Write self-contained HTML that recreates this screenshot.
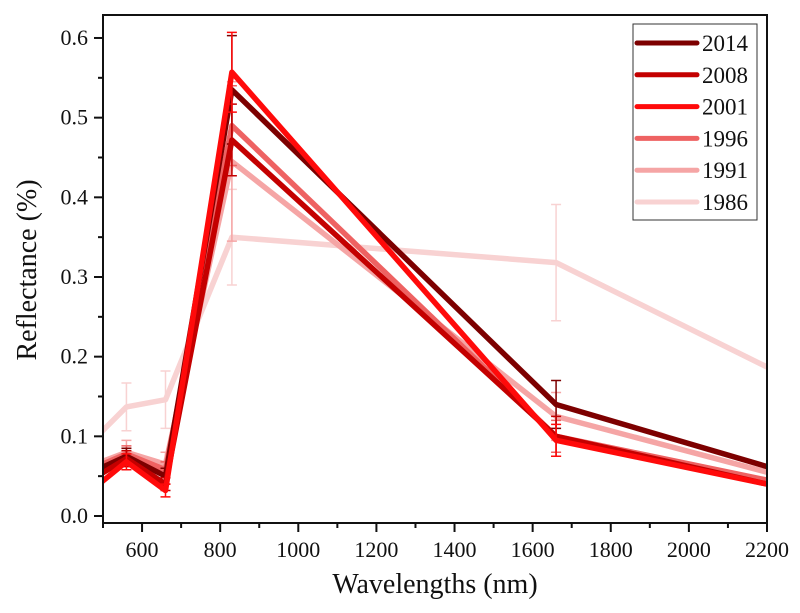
<!DOCTYPE html>
<html><head><meta charset="utf-8"><style>
html,body{margin:0;padding:0;background:#fff;}
svg text{font-family:"Liberation Serif",serif;fill:#111;}
</style></head><body>
<svg id="chart" width="800" height="608" xmlns="http://www.w3.org/2000/svg">
<defs><clipPath id="clip"><rect x="103" y="15" width="664" height="508"/></clipPath></defs>
<g id="plot" clip-path="url(#clip)"></g>
<rect x="103" y="15" width="664" height="508" fill="none" stroke="#111" stroke-width="2"/>
<g id="axes"></g>
<text x="435" y="593" font-size="28" text-anchor="middle">Wavelengths (nm)</text>
<text transform="translate(36,270) rotate(-90)" font-size="28" text-anchor="middle">Reflectance (%)</text>
<rect x="633" y="24" width="124" height="196" fill="#fff" stroke="#333" stroke-width="1"/>
<g id="legend"></g>
</svg>
<script>
const wavelengths=[485,560,660,830,1660,2200];
const years=["2014","2008","2001","1996","1991","1986"];
const colors=["#7d0000","#c40000","#ff0a0a","#ee6262","#f5a5a5","#f8d2d2"];
const v2014=[0.058,0.075,0.05,0.535,0.14,0.062];
const v2008=[0.05,0.072,0.04,0.472,0.10,0.04];
const v2001=[0.038,0.068,0.032,0.557,0.095,0.04];
const v1996=[0.062,0.078,0.058,0.49,0.10,0.045];
const v1991=[0.066,0.08,0.065,0.445,0.125,0.055];
const v1986=[0.10,0.137,0.146,0.35,0.318,0.187];
const e2014=[0,0.01,0.01,0.068,0.03,0];
const e2008=[0,0.01,0.008,0.045,0.025,0];
const e2001=[0,0.01,0.008,0.05,0.02,0];
const e1996=[0,0.01,0.01,0.05,0.02,0];
const e1991=[0,0.015,0.015,0.1,0.03,0];
const e1986=[0,0.03,0.036,0.06,0.073,0];
const xTicks=[600,800,1000,1200,1400,1600,1800,2000,2200];
const yTicks=[0.0,0.1,0.2,0.3,0.4,0.5,0.6];
const ns="http://www.w3.org/2000/svg";
const X=w=>103+(w-500)*(664/1700);
const Y=v=>516-v*796.7;
function mk(t,a,p){const e=document.createElementNS(ns,t);for(const k in a)e.setAttribute(k,a[k]);(p||document.getElementById('chart')).appendChild(e);return e;}
const plot=document.getElementById('plot'),axes=document.getElementById('axes'),leg=document.getElementById('legend');
const series=[v1986,v1991,v1996,v2014,v2008,v2001];
const errs=[e1986,e1991,e1996,e2014,e2008,e2001];
const idx=[5,4,3,0,1,2];
series.forEach((s,k)=>{const c=colors[idx[k]];
 const pts=s.map((v,i)=>X(wavelengths[i]).toFixed(1)+','+Y(v).toFixed(1)).join(' ');
 const pl=mk('polyline',{points:pts,fill:'none',stroke:c,'stroke-width':5.5,'stroke-linejoin':'round'},plot);
 
 
 s.forEach((v,i)=>{const e=errs[k][i];if(!e)return;const x=X(wavelengths[i]);
  const g=mk('path',{d:`M${x},${Y(v+e)}V${Y(v-e)}M${x-5},${Y(v+e)}h10M${x-5},${Y(v-e)}h10`,stroke:c,'stroke-width':1.5,fill:'none'},plot);
  
  });
});
xTicks.forEach(t=>{const x=X(t);
 mk('line',{x1:x,x2:x,y1:523,y2:532,stroke:'#111','stroke-width':2},axes);
 mk('line',{x1:X(t-100),x2:X(t-100),y1:523,y2:528,stroke:'#111','stroke-width':2},axes);
 const tx=mk('text',{x:x,y:557,'font-size':22,'text-anchor':'middle'},axes);tx.textContent=t;
 
 });
yTicks.forEach(t=>{const y=Y(t);
 mk('line',{x1:94,x2:103,y1:y,y2:y,stroke:'#111','stroke-width':2},axes);
 if(t<0.6)mk('line',{x1:98,x2:103,y1:Y(t+0.05),y2:Y(t+0.05),stroke:'#111','stroke-width':2},axes);
 const tx=mk('text',{x:88,y:y+7,'font-size':22,'text-anchor':'end'},axes);tx.textContent=t.toFixed(1);
 
 });
years.forEach((yr,i)=>{const y=43+i*31.8;
 const l=mk('line',{x1:637,x2:697,y1:y,y2:y,stroke:colors[i],'stroke-width':5,'stroke-linecap':'round'},leg);
 
 
 const t=mk('text',{x:702,y:y+8,'font-size':23},leg);t.textContent=yr;
 
 });
</script>
</body></html>
